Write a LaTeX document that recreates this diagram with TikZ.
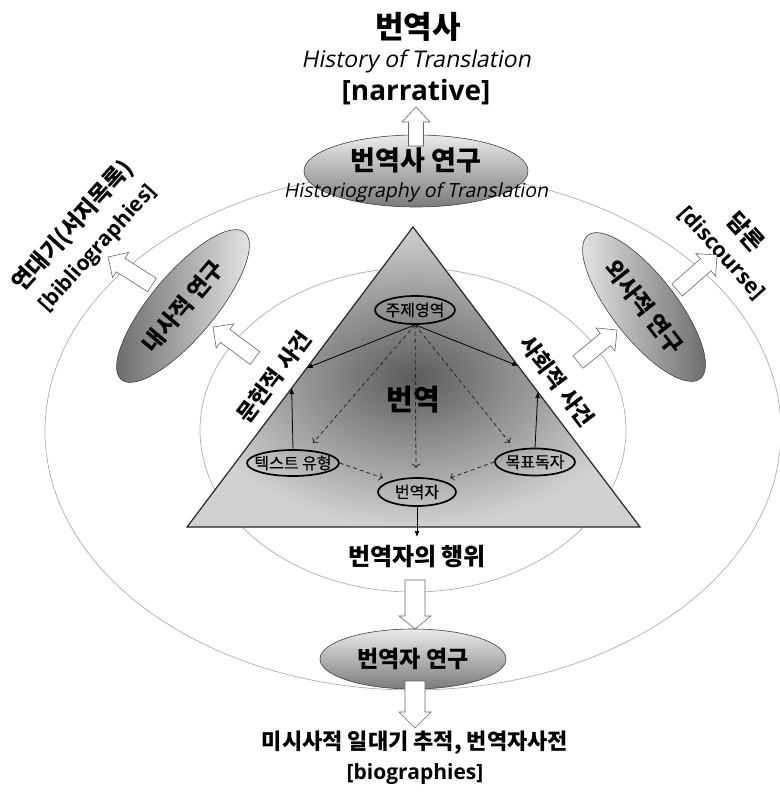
\documentclass[tikz,border=0pt]{standalone}
\usepackage{fontspec}
\setmainfont{Noto Sans CJK KR}
\newfontfamily\lat{Open Sans}
\newfontfamily\latsl[FakeSlant=0.2]{Open Sans}
\newfontfamily\krmed[FakeBold=0.6]{Noto Sans CJK KR}
\usetikzlibrary{arrows.meta,calc,shapes.geometric}
\tikzset{
  orbit/.style={draw=black!32, line width=0.7pt},
  bigell/.style={ellipse, draw=black!75, line width=0.6pt, inner sep=0pt},
  innode/.style={ellipse, draw=black, line width=1.7pt, inner sep=0pt},
  intext/.style={inner sep=0pt, font=\krmed\fontsize{16}{18}\selectfont},
  solidar/.style={draw=black, line width=0.8pt, -{Latex[length=6pt,width=5pt]}},
  dasharr/.style={draw=black!85, line width=0.8pt, dash pattern=on 4pt off 3pt, -{To[length=4pt,width=8pt]}},
  hollow/.style={fill=white, draw=black!60, line width=0.6pt, line join=miter},
  lbl/.style={inner sep=0pt, align=center, font=\bfseries\fontsize{22}{30}\selectfont},
}
\newcommand\harrow[5]{%
  \coordinate (hb) at ($(#2)!#5!(#1)$);
  \draw[hollow] ($(#1)!#3!90:(#2)$) -- ($(hb)!#3!90:(#2)$) -- ($(hb)!#4!90:(#2)$) -- (#2)
    -- ($(hb)!#4!-90:(#2)$) -- ($(hb)!#3!-90:(#2)$) -- ($(#1)!#3!-90:(#2)$) -- cycle;
}
\begin{document}
\begin{tikzpicture}[x=1pt,y=-1pt]
\useasboundingbox (0,0) rectangle (779,794);
% orbits
\draw[orbit] (413,431) ellipse [x radius=368pt, y radius=259pt];
\draw[orbit] (413,430) ellipse [x radius=213pt, y radius=162pt];
% triangle
\coordinate (apex) at (413,227);
\coordinate (lc) at (187,527);
\coordinate (rc) at (640,527);
\shade[draw=black!85, line width=1.2pt, inner color=black!64, outer color=black!18] (apex) -- (lc) -- (rc) -- cycle;
% titles
\node[inner sep=0pt, font=\bfseries\fontsize{31}{33}\selectfont] (t1) at (418,27) {번역사};
\node[inner sep=0pt, font=\latsl\fontsize{23}{25}\selectfont] (t2) at (416,61) {History of Translation};
\node[inner sep=0pt, font=\lat\bfseries\fontsize{28}{30}\selectfont] (t3) at (416,92) {[narrative]};
% outer ellipse nodes
\node[bigell, minimum width=224pt, minimum height=72pt, top color=black!8, bottom color=black!52] (hs) at (416,171) {};
\node[inner sep=0pt, font=\bfseries\fontsize{27}{29}\selectfont] (hst) at (416,160) {번역사 연구};
\node[inner sep=0pt, font=\latsl\fontsize{19.5}{21}\selectfont] (hsi) at (416,192) {Historiography of Translation};
\node[bigell, rotate=50, minimum width=192pt, minimum height=64pt, left color=black!60, right color=black!8] (ns) at (183,306) {};
\node[lbl, rotate=50, font=\bfseries\fontsize{23}{30}\selectfont] (nst) at (ns) {내사적 연구};
\node[bigell, rotate=-52, minimum width=182pt, minimum height=64pt, left color=black!8, right color=black!60] (os) at (644,307) {};
\node[lbl, rotate=-52, font=\bfseries\fontsize{23}{30}\selectfont] (ost) at (os) {외사적 연구};
\node[bigell, minimum width=186pt, minimum height=60pt, top color=black!8, bottom color=black!52] (bs) at (413,659) {};
\node[lbl, font=\bfseries\fontsize{23}{30}\selectfont] (bst) at (bs) {번역자 연구};
% outer labels
\node[lbl, rotate=48, font=\bfseries\fontsize{23}{32}\selectfont] (bib) at (85,237) {연대기(서지목록)\\{}{\lat\bfseries\fontsize{21}{32}\selectfont[bibliographies]}};
\node[lbl, rotate=-48, font=\bfseries\fontsize{23}{30}\selectfont] (disc) at (734,242) {담론\\{}{\lat\bfseries\fontsize{21.5}{30}\selectfont[discourse]}};
\node[lbl] (bio) at (415,758) {미시사적 일대기 추적, 번역자사전\\{}{\lat\bfseries\fontsize{21}{28}\selectfont[biographies]}};
\node[lbl, font=\bfseries\fontsize{24}{30}\selectfont] (act) at (417,557) {번역자의 행위};
% edge labels
\node[lbl, rotate=53] (mh) at (274,377) {문헌적 사건};
\node[lbl, rotate=-53] (sh) at (557,381) {사회적 사건};
\node[inner sep=0pt, font=\bfseries\fontsize{29}{31}\selectfont] (by) at (413,400) {번역};
% inner nodes
\node[innode, minimum width=80pt, minimum height=28pt] (jz) at (415,310) {};
\node[intext] at (jz) {주제영역};
\node[innode, minimum width=92pt, minimum height=26pt] (tx) at (293,463) {};
\node[intext] at (tx) {텍스트 유형};
\node[innode, minimum width=80pt, minimum height=27pt] (mp) at (535,462) {};
\node[intext] at (mp) {목표독자};
\node[innode, minimum width=78pt, minimum height=28pt] (bj) at (417,492) {};
\node[intext] at (bj) {번역자};
% edge points
\coordinate (e1) at ($(apex)!0.47!(lc)$);
\coordinate (e3) at ($(apex)!0.537!(lc)$);
\coordinate (e2) at ($(apex)!0.463!(rc)$);
\coordinate (e4) at ($(apex)!0.55!(rc)$);
\coordinate (d1) at (313,443);
\coordinate (d2) at (416,468);
\coordinate (d3) at (510,443);
\coordinate (d4) at (383,478);
\coordinate (d5) at (450,478);
\coordinate (actp) at (417,537);
% connectors
\draw[solidar] (jz.south) -- (e1);
\draw[solidar] (jz.south) -- (e2);
\draw[solidar] (tx.north) -- (e3);
\draw[solidar] (mp.north) -- (e4);
\draw[dasharr] (jz.south) -- (d1);
\draw[dasharr] (jz.south) -- (d2);
\draw[dasharr] (jz.south) -- (d3);
\draw[dasharr] (tx.east) -- (d4);
\draw[dasharr] (mp.west) -- (d5);
\draw[solidar] (bj.south) -- (actp);
% hollow arrows
\coordinate (a1t) at (416,146); \coordinate (a1h) at (416,107);
\harrow{a1t}{a1h}{7.5pt}{14pt}{15pt}
\coordinate (a2t) at (255,358); \coordinate (a2h) at (213,327);
\harrow{a2t}{a2h}{8pt}{15pt}{15pt}
\coordinate (a3t) at (152,285); \coordinate (a3h) at (108,257);
\harrow{a3t}{a3h}{8pt}{15pt}{15pt}
\coordinate (a4t) at (578,362); \coordinate (a4h) at (617,330);
\harrow{a4t}{a4h}{8pt}{15pt}{15pt}
\coordinate (a5t) at (677,290); \coordinate (a5h) at (717,255);
\harrow{a5t}{a5h}{8pt}{15pt}{15pt}
\coordinate (a6t) at (415,580); \coordinate (a6h) at (415,629);
\harrow{a6t}{a6h}{10pt}{16pt}{13pt}
\coordinate (a7t) at (415,681); \coordinate (a7h) at (415,728);
\harrow{a7t}{a7h}{10pt}{16pt}{16pt}
\end{tikzpicture}
\end{document}
